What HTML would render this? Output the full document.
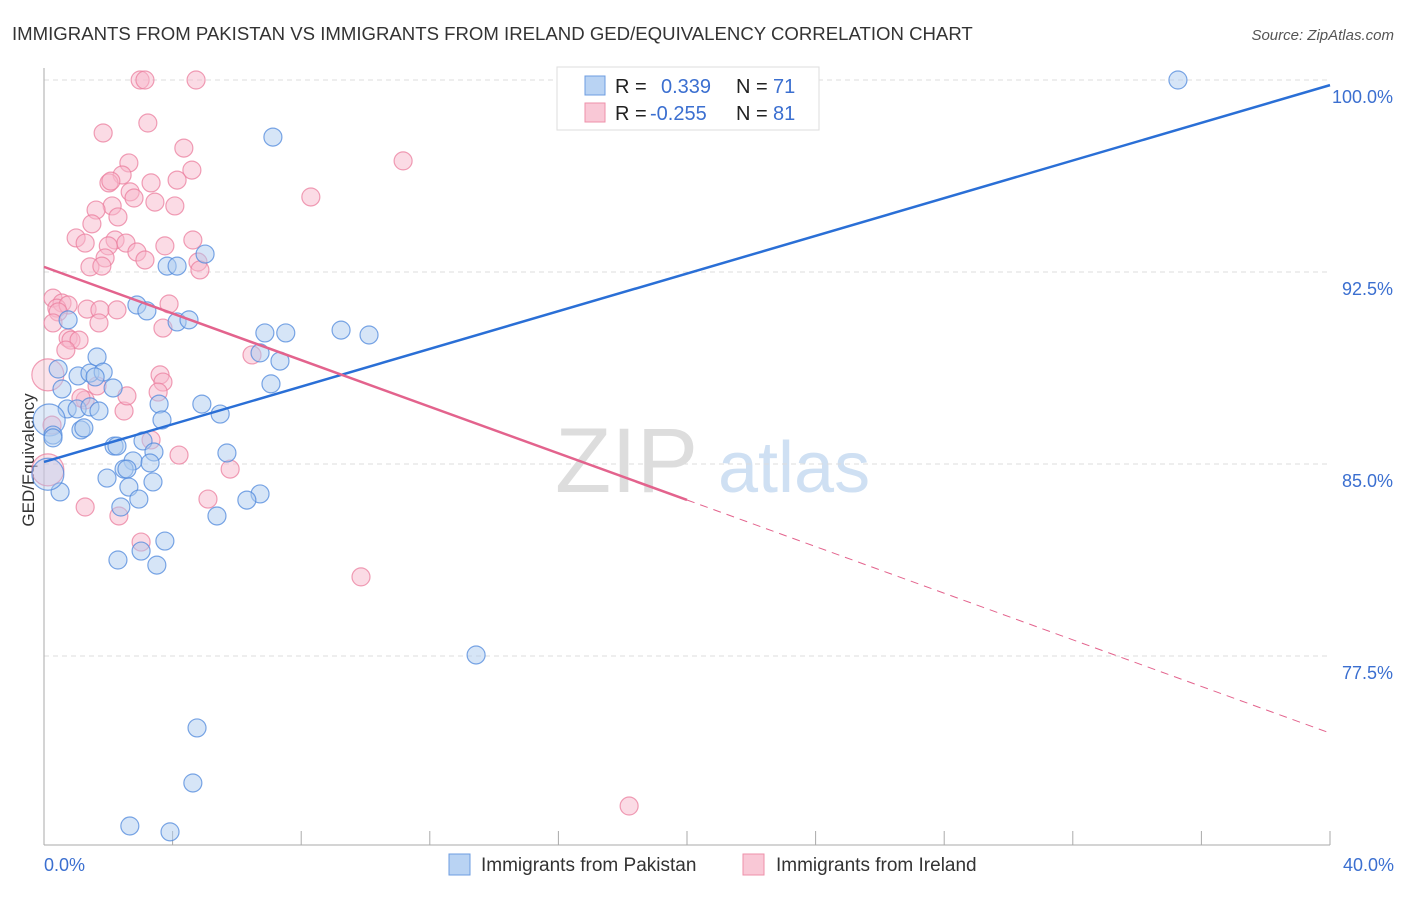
<!DOCTYPE html>
<html><head><meta charset="utf-8"><style>
body{margin:0;background:#fff;font-family:"Liberation Sans","DejaVu Sans",sans-serif;}
svg text{font-family:"Liberation Sans","DejaVu Sans",sans-serif;}
</style></head><body>
<svg id="chart" width="1406" height="892">
<text x="12" y="40" font-size="18.6" fill="#333">IMMIGRANTS FROM PAKISTAN VS IMMIGRANTS FROM IRELAND GED/EQUIVALENCY CORRELATION CHART</text>
<text x="1394" y="40" font-size="15" fill="#555" font-style="italic" text-anchor="end">Source: ZipAtlas.com</text>
<text x="34" y="460" font-size="17" fill="#333" text-anchor="middle" transform="rotate(-90 34 460)">GED/Equivalency</text>
<g><text x="555" y="492" font-size="92" fill="#ddd" font-family="Liberation Serif">ZIP</text><text x="718" y="492" font-size="72" fill="#cfe0f3">atlas</text></g>
<g id="grid"></g><g id="axes"></g><g id="pts"></g><g id="lines"></g>
<g>
<rect x="557" y="67" width="262" height="63" fill="#fff" stroke="#ddd"/>
<rect x="585" y="76" width="20" height="19" fill="#b9d3f3" stroke="#6d9de0"/>
<rect x="585" y="103" width="20" height="19" fill="#f9c8d6" stroke="#ee90aa"/>
<text font-size="20" fill="#222"><tspan x="615" y="93">R =</tspan><tspan x="615" y="120">R =</tspan><tspan x="736" y="93">N =</tspan><tspan x="736" y="120">N =</tspan></text>
<text font-size="20" fill="#3b6fd0"><tspan x="661" y="93">0.339</tspan><tspan x="650" y="120">-0.255</tspan><tspan x="773" y="93">71</tspan><tspan x="773" y="120">81</tspan></text>
</g>
<g>
<rect x="449" y="854" width="21" height="21" fill="#b9d3f3" stroke="#6d9de0"/>
<text x="481" y="871" font-size="19" fill="#333">Immigrants from Pakistan</text>
<rect x="743" y="854" width="21" height="21" fill="#f9c8d6" stroke="#ee90aa"/>
<text x="776" y="871" font-size="19" fill="#333">Immigrants from Ireland</text>
</g>
</svg>
<script>
const blueX=[35.27,7.12,5.01,3.83,4.14,2.89,3.20,0.75,4.14,4.51,6.87,7.52,9.24,10.11,1.65,6.72,7.34,0.44,1.06,1.43,1.84,1.59,0.56,2.15,7.06,3.58,4.91,0.72,1.03,1.43,1.71,5.48,3.67,0.16,1.15,1.24,0.28,0.28,3.08,2.18,2.27,5.69,3.42,2.77,3.30,2.49,2.58,1.96,3.39,2.64,6.72,6.31,2.95,2.39,0.50,5.38,3.76,3.02,2.30,3.51,13.44,4.76,4.63,2.67,3.92,16.42,0.12];
const blueY=[100,97.77,93.20,92.73,92.73,91.21,90.98,90.63,90.55,90.63,90.12,90.12,90.23,90.04,89.18,89.34,89.02,88.71,88.44,88.55,88.59,88.40,87.93,87.97,88.13,87.34,87.34,87.15,87.15,87.23,87.07,86.95,86.72,86.72,86.33,86.41,86.13,86.02,85.90,85.70,85.70,85.43,85.47,85.12,85.04,84.80,84.80,84.45,84.30,84.10,83.83,83.59,83.63,83.32,83.91,82.97,81.99,81.60,81.25,81.05,77.54,74.69,72.54,70.86,70.63,100,84.6];
const pinkX=[2.99,3.14,4.73,3.23,1.84,4.35,2.64,11.17,4.60,2.43,4.14,2.02,2.08,3.33,2.68,2.80,3.45,4.07,8.30,2.12,1.62,2.30,1.49,1.00,1.28,2.21,2.00,2.55,3.76,4.63,2.89,1.90,3.14,4.79,1.43,1.80,4.85,0.28,0.56,0.40,0.75,0.44,1.34,1.74,2.27,3.89,0.28,1.71,3.70,0.75,0.84,1.09,0.68,6.47,0.12,3.61,3.70,3.55,1.65,1.28,1.15,2.49,2.58,0.25,3.33,4.20,0.12,5.79,5.10,1.28,2.33,3.02,9.86,18.20];
const pinkY=[100,100,100,98.32,97.93,97.34,96.76,96.84,96.48,96.29,96.09,95.98,96.05,95.98,95.63,95.39,95.23,95.08,95.43,95.08,94.92,94.65,94.38,93.83,93.63,93.75,93.52,93.63,93.52,93.75,93.28,93.05,92.97,92.89,92.70,92.73,92.58,91.48,91.29,91.09,91.21,90.94,91.05,91.02,91.02,91.25,90.51,90.51,90.31,89.92,89.84,89.84,89.45,89.26,88.48,88.48,88.20,87.81,88.05,87.50,87.58,87.07,87.66,86.52,85.94,85.35,84.77,84.80,83.63,83.32,82.97,81.95,80.59,71.64];
const yTicks=[100,92.5,85,77.5];
const yTickLabels=["100.0%","92.5%","85.0%","77.5%"];
const xTicks=[0,4,8,12,16,20,24,28,32,36,40];
const xEndLabels=["0.0%","40.0%"];
const blueTrend=[85.08,99.80];
const pinkTrend=[92.70,74.49];
const pinkSolidEnd=20.0;

const NS="http://www.w3.org/2000/svg";
const sx=v=>44+v*(1330-44)/40;
const sy=v=>80+(100-v)*25.6;
function mk(tag,attrs,parent){const e=document.createElementNS(NS,tag);for(const k in attrs)e.setAttribute(k,attrs[k]);document.getElementById(parent).appendChild(e);return e;}
yTicks.forEach((t,i)=>{
  const l=mk('line',{x1:44,x2:1330,y1:sy(t),y2:sy(t),stroke:'#ddd','stroke-dasharray':'5,4'},'grid');
  
  
  const tx=mk('text',{x:1393,y:sy(t)+23,'font-size':18,fill:'#3b6fd0','text-anchor':'end'},'axes');
  tx.textContent=yTickLabels[i];
  
  
});
const ax=mk('line',{x1:44,x2:44,y1:68,y2:845,stroke:'#aaa'},'axes');


const bx=mk('line',{x1:44,x2:1330,y1:845,y2:845,stroke:'#aaa'},'axes');


xTicks.forEach(t=>{
  const l=mk('line',{x1:sx(t),x2:sx(t),y1:831,y2:845,stroke:'#aaa'},'axes');
  
  
});
[[0,'start',44],[40,'end',1394]].forEach((d,i)=>{
  const tx=mk('text',{x:d[2],y:871,'font-size':18,fill:'#3b6fd0','text-anchor':d[1]},'axes');
  tx.textContent=xEndLabels[i];
  
  
});
function pts(X,Y,fill,stroke,name){
  X.forEach((x,i)=>{
    const big=x<0.2;
    const c=mk('circle',{cx:sx(x),cy:sy(Y[i]),r:big?16:9,fill:fill,'fill-opacity':big?0.4:0.5,stroke:stroke,'stroke-opacity':0.75,'stroke-width':1.2},'pts');
    
    
  });
}
pts(pinkX,pinkY,'#f7b8cb','#eb7d9e','ireland-point');
pts(blueX,blueY,'#aecbf0','#4f88dc','pakistan-point');
const bl=mk('line',{x1:sx(0),y1:sy(blueTrend[0]),x2:sx(40),y2:sy(blueTrend[1]),stroke:'#2a6fd6','stroke-width':2.5},'lines');


const pAt=x=>pinkTrend[0]+(pinkTrend[1]-pinkTrend[0])*x/40;
const pl=mk('line',{x1:sx(0),y1:sy(pAt(0)),x2:sx(pinkSolidEnd),y2:sy(pAt(pinkSolidEnd)),stroke:'#e3638d','stroke-width':2.5},'lines');


const pd=mk('line',{x1:sx(pinkSolidEnd),y1:sy(pAt(pinkSolidEnd)),x2:sx(40),y2:sy(pAt(40)),stroke:'#e3638d','stroke-width':1,'stroke-dasharray':'8,6'},'lines');


</script>
</body></html>
